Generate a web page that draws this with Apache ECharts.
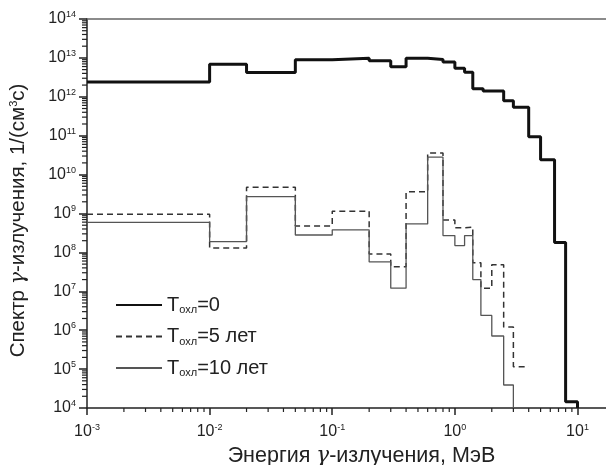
<!DOCTYPE html>
<html><head><meta charset="utf-8">
<script src="https://cdn.jsdelivr.net/npm/echarts@6/dist/echarts.min.js"></script>
<style>html,body{margin:0;padding:0;background:#fff}#c{width:606px;height:465px}</style>
</head><body><div id="c"></div>
<script>
// ---- data (energy bin edges in MeV, spectrum values per bin) ----
const edgesT0  = [0.001,0.01,0.02,0.05,0.1,0.2,0.3,0.4,0.6,0.8,1.0,1.2,1.4,1.7,2.5,3.0,4.0,5.0,6.5,8.0,10.0];
const valuesT0 = [2.4e12,6.9e12,4.2e12,8.9e12,9.8e12,8.4e12,5.9e12,9.8e12,9.1e12,7.9e12,5.4e12,4.3e12,1.6e12,1.4e12,7.9e11,5.4e11,9.4e10,2.4e10,1.8e8,1.45e4];
const edgesT5  = [0.001,0.01,0.02,0.05,0.1,0.2,0.3,0.4,0.6,0.8,1.0,1.2,1.4,1.63,2.0,2.5,3.0,4.0];
const valuesT5 = [9.6e8,1.3e8,4.7e9,4.8e8,1.15e9,9.1e7,4.3e7,3.6e9,3.6e10,6.8e8,4.3e8,4.5e8,5.4e7,1.2e7,4.8e7,1.2e6,1.15e5];
const edgesT10  = [0.001,0.01,0.02,0.05,0.1,0.2,0.3,0.4,0.6,0.8,1.0,1.2,1.4,1.63,2.0,2.5,3.0];
const valuesT10 = [5.9e8,1.9e8,2.7e9,2.8e8,3.8e8,5.7e7,1.2e7,5.4e8,2.8e10,2.7e8,1.5e8,2.7e8,2.0e7,2.4e6,7.1e5,3.9e4];
const dropT0 = true, dropT5 = false, dropT10 = true;   // last bin falls to the axis
const seriesNames = ['T0','T5','T10'];
const legendLabels = {T0:'{t|T}{s|охл}{t|=0}', T5:'{t|T}{s|охл}{t|=5 лет}', T10:'{t|T}{s|охл}{t|=10 лет}'};
const X_MIN = 1e-3, X_MAX = 30, Y_MIN = 1e4, Y_MAX = 1e14;
const minorMult = [2,3,4,5,6,7,8,9];
const xName = 'Энергия {g|γ}-излучения, МэВ';
const yName = 'Спектр {g|γ}-излучения, 1/(см{sup|3}с)';

const FONT = '"Liberation Sans", Arial, sans-serif';
const TXT = '#222';

function stepData(edges, vals, drop) {
  const d = [];
  vals.forEach((v, i) => { d.push([edges[i], v]); d.push([edges[i + 1], v]); });
  if (drop) d.push([edges[edges.length - 1], Y_MIN]);
  return d;
}
function minors(lo, hi, vmax) {
  const out = [];
  for (let e = lo; e < hi; e++) minorMult.forEach(m => { const v = m * Math.pow(10, e); if (v < vmax) out.push(v); });
  return out;
}
function powLabel(v) {
  const l = Math.log10(v), e = Math.round(l);
  if (Math.abs(l - e) > 1e-6) return '';
  return '{b|10}{s|' + e + '}';
}
const labelRich = {
  b: {fontSize: 16, fontFamily: FONT, color: TXT, lineHeight: 18},
  s: {fontSize: 9, fontFamily: FONT, color: TXT, verticalAlign: 'top', lineHeight: 10}
};
const nameRich = (fs) => ({
  g: {fontSize: fs, fontFamily: '"DejaVu Serif", serif', fontStyle: 'italic', color: TXT},
  sup: {fontSize: 11, fontFamily: FONT, color: TXT, verticalAlign: 'top', lineHeight: 12}
});

const chart = echarts.init(document.getElementById('c'), null, {renderer: 'canvas'});
chart.setOption({
  animation: false,
  backgroundColor: '#fff',
  grid: {left: 87, top: 19, width: 549, height: 389, containLabel: false, outerBoundsMode: 'none'},
  legend: {
    data: seriesNames, orient: 'vertical', left: 110, top: 290,
    itemWidth: 46, itemHeight: 14, itemGap: 11,
    formatter: n => legendLabels[n],
    itemStyle: {color: 'rgba(0,0,0,0)', borderWidth: 0, opacity: 0},
    textStyle: {rich: {
      t: {fontSize: 20, fontFamily: FONT, color: TXT, lineHeight: 22},
      s: {fontSize: 11, fontFamily: FONT, color: TXT, padding: [10, 0, 0, 0]}
    }}
  },
  xAxis: [{
    type: 'log', logBase: 10, min: X_MIN, max: X_MAX, interval: 1,
    name: xName, nameLocation: 'middle', nameGap: 37,
    nameTextStyle: {fontSize: 21.5, fontFamily: FONT, color: TXT, rich: nameRich(21.5)},
    axisLine: {lineStyle: {color: '#222', width: 1.5}},
    axisTick: {length: 7, lineStyle: {color: '#222', width: 1.5}},
    axisLabel: {formatter: powLabel, margin: 15, rich: labelRich, showMaxLabel: false},
    splitLine: {show: false}, minorTick: {show: false}
  }, {
    type: 'log', logBase: 10, min: X_MIN, max: X_MAX, position: 'top',
    axisLine: {lineStyle: {color: '#666', width: 1.5}},
    axisTick: {show: false}, axisLabel: {show: false}, splitLine: {show: false}
  }],
  yAxis: [{
    type: 'log', logBase: 10, min: Y_MIN, max: Y_MAX, interval: 1,
    name: yName, nameLocation: 'middle', nameGap: 58,
    nameTextStyle: {fontSize: 20.5, fontFamily: FONT, color: TXT, rich: nameRich(20.5), padding: [0, 14, 0, 0]},
    axisLine: {show: true, lineStyle: {color: '#222', width: 1.5}},
    axisTick: {show: true, length: 8, lineStyle: {color: '#222', width: 1.5}},
    axisLabel: {formatter: powLabel, margin: 11, rich: labelRich},
    splitLine: {show: false}, minorTick: {show: false}
  }],
  series: [
    {name: 'T0', type: 'line', data: stepData(edgesT0, valuesT0, dropT0), symbol: 'none', showSymbol: false,
     lineStyle: {color: '#111', width: 3}, itemStyle: {color: '#111'}, z: 4},
    {name: 'T5', type: 'line', data: stepData(edgesT5, valuesT5, dropT5), symbol: 'none', showSymbol: false,
     lineStyle: {color: '#333', width: 1.5, type: [6, 4]}, itemStyle: {color: '#333'}, z: 3},
    {name: 'T10', type: 'line', data: stepData(edgesT10, valuesT10, dropT10), symbol: 'none', showSymbol: false,
     lineStyle: {color: '#555', width: 1.3}, itemStyle: {color: '#555'}, z: 3},
    {type: 'custom', silent: true, clip: false, z: 5,
     data: minors(-3, 2, X_MAX).map(v => [v, Y_MIN]),
     renderItem: (p, api) => { const c = api.coord([api.value(0), api.value(1)]);
       return {type: 'line', shape: {x1: c[0], y1: c[1], x2: c[0], y2: c[1] + 4}, style: {stroke: '#222', lineWidth: 1.2}}; }},
    {type: 'custom', silent: true, clip: false, z: 5,
     data: minors(4, 14, Y_MAX).map(v => [X_MIN, v]),
     renderItem: (p, api) => { const c = api.coord([api.value(0), api.value(1)]);
       return {type: 'line', shape: {x1: c[0] - 5, y1: c[1], x2: c[0], y2: c[1]}, style: {stroke: '#222', lineWidth: 1.2}}; }}
  ]
});
</script></body></html>
